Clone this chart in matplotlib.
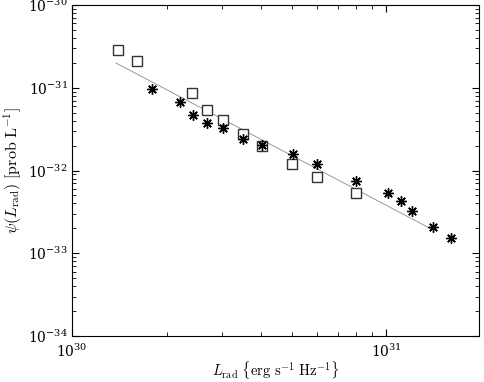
import matplotlib
matplotlib.use("Agg")
import matplotlib.pyplot as plt
import numpy as np

plt.rcParams['font.family'] = 'serif'
plt.rcParams['mathtext.fontset'] = 'cm'

# data
L_sq   = [1.40e30, 1.61e30, 2.40e30, 2.69e30, 3.03e30, 3.50e30, 4.02e30, 5.00e30, 6.00e30, 8.03e30]
psi_sq = [2.86e-31, 2.10e-31, 8.65e-32, 5.39e-32, 4.07e-32, 2.76e-32, 1.98e-32, 1.20e-32, 8.34e-33, 5.35e-33]

L_st   = [1.80e30, 2.20e30, 2.42e30, 2.69e30, 3.03e30, 3.50e30, 4.02e30, 5.04e30, 6.00e30,
          8.03e30, 1.01e31, 1.11e31, 1.21e31, 1.41e31, 1.61e31]
psi_st = [9.66e-32, 6.73e-32, 4.69e-32, 3.75e-32, 3.26e-32, 2.40e-32, 2.03e-32, 1.58e-32, 1.20e-32,
          7.46e-33, 5.35e-33, 4.28e-33, 3.24e-33, 2.08e-33, 1.53e-33]

# power law fit line
L_fit   = [1.38e30, 1.39e31]
psi_fit = [1.99e-31, 1.96e-33]

fig = plt.figure(figsize=(4.85, 3.82), dpi=100)
ax = fig.add_axes([0.1485, 0.1204, 0.8391, 0.8665])
ax.set_xscale('log')
ax.set_yscale('log')

ax.plot(L_fit, psi_fit, color='#999999', lw=0.7)
ax.plot(L_sq, psi_sq, ls='none', marker='s', ms=7, mfc='white', mec='#333333', mew=1.0)
ax.plot(L_st, psi_st, ls='none', marker=(8, 2, 0), ms=7.5, mec='black', mew=1.0)

ax.set_xlim(1e30, 1.97e31)
ax.set_ylim(1e-34, 1e-30)
ax.tick_params(which='both', direction='in', top=True, right=True, labelsize=10)
ax.tick_params(which='major', length=5)
ax.tick_params(which='minor', length=3)
ax.tick_params(axis='x', pad=5)
ax.tick_params(axis='y', pad=3)

ax.set_xlabel(r'$L_{\rm rad}\ \{\rm erg\ s^{-1}\ Hz^{-1}\}$', fontsize=10.5, labelpad=-1)
ax.set_ylabel(r'$\psi(L_{\rm rad})\ [\rm prob\ L^{-1}]$', fontsize=11.5, labelpad=3)

fig.savefig('out.png', dpi=100)
